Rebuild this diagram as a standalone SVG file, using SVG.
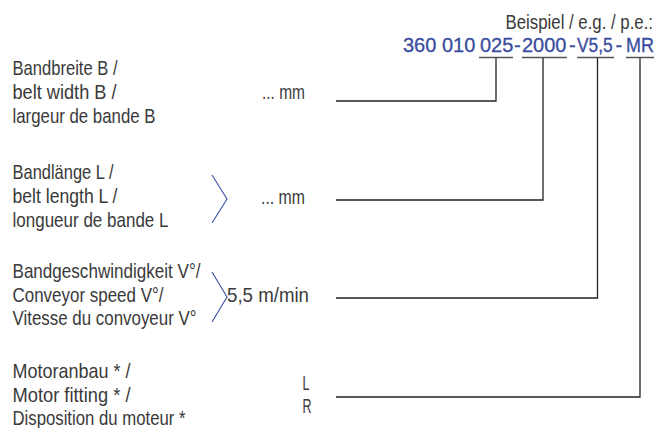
<svg xmlns="http://www.w3.org/2000/svg" width="671" height="428" viewBox="0 0 671 428">
<style>
  text { font-family: "Liberation Sans", Arial, sans-serif; font-size: 21px; fill: #3a3a3a; }
  .code { font-size: 20px; fill: #3a4c9e; stroke: #3a4c9e; stroke-width: 0.3; }
  .conn { fill: none; stroke: #222; stroke-width: 1.3; }
  .ul { fill: none; stroke: #555; stroke-width: 1.3; }
  .br { fill: none; stroke: #3a4fa8; stroke-width: 1.1; }
</style>
<rect width="671" height="428" fill="#fff"/>

<g id="example">
  <text transform="translate(653 29) scale(0.8 1)" text-anchor="end">Beispiel / e.g. / p.e.:</text>
  <text class="code" y="52"><tspan x="403">360 010</tspan><tspan x="480">025</tspan><tspan x="514">-</tspan><tspan x="522">2000</tspan><tspan x="569">-</tspan></text>
  <text class="code" transform="translate(577 52) scale(0.87 1)">V5,5</text>
  <text class="code" x="615.5" y="52">-</text>
  <text class="code" transform="translate(626 52) scale(0.9 1)">MR</text>
  <path class="ul" d="M479 57.5H513M522 57.5H567M577 57.5H614M626 57.5H654"/>
</g>

<g id="belt-width">
  <text x="12.5" y="75" textLength="105" lengthAdjust="spacingAndGlyphs">Bandbreite B /</text>
  <text x="12.5" y="99" textLength="104" lengthAdjust="spacingAndGlyphs">belt width B /</text>
  <text x="12.5" y="123" textLength="143" lengthAdjust="spacingAndGlyphs">largeur de bande B</text>
  <text x="262" y="99" textLength="43" lengthAdjust="spacingAndGlyphs">... mm</text>
</g>

<g id="belt-length">
  <text x="12.5" y="179" textLength="101" lengthAdjust="spacingAndGlyphs">Bandlänge L /</text>
  <text x="12.5" y="203" textLength="105" lengthAdjust="spacingAndGlyphs">belt length L /</text>
  <text x="12.5" y="227" textLength="156" lengthAdjust="spacingAndGlyphs">longueur de bande L</text>
  <path class="br" d="M212 175L227 199L212 223"/>
  <text x="261" y="204" textLength="44" lengthAdjust="spacingAndGlyphs">... mm</text>
</g>

<g id="speed">
  <text x="12.5" y="278" textLength="188" lengthAdjust="spacingAndGlyphs">Bandgeschwindigkeit V°/</text>
  <text x="12.5" y="302" textLength="151" lengthAdjust="spacingAndGlyphs">Conveyor speed V°/</text>
  <text x="12.5" y="325" textLength="184" lengthAdjust="spacingAndGlyphs">Vitesse du convoyeur V°</text>
  <path class="br" d="M212 272L227 297L212 322"/>
  <text x="227" y="302" textLength="82" lengthAdjust="spacingAndGlyphs">5,5 m/min</text>
</g>

<g id="motor">
  <text x="12.5" y="378" textLength="118" lengthAdjust="spacingAndGlyphs">Motoranbau * /</text>
  <text x="12.5" y="402" textLength="118" lengthAdjust="spacingAndGlyphs">Motor fitting * /</text>
  <text x="12.5" y="425" textLength="173" lengthAdjust="spacingAndGlyphs">Disposition du moteur *</text>
  <text x="302.5" y="390" textLength="7" lengthAdjust="spacingAndGlyphs">L</text>
  <text x="302.5" y="413" textLength="9" lengthAdjust="spacingAndGlyphs">R</text>
</g>

<g id="connectors">
  <path class="conn" d="M336 101H496V58"/>
  <path class="conn" d="M336 200H543V58"/>
  <path class="conn" d="M336 298H597.5V58"/>
  <path class="conn" d="M336 397H640V58"/>
</g>
</svg>
